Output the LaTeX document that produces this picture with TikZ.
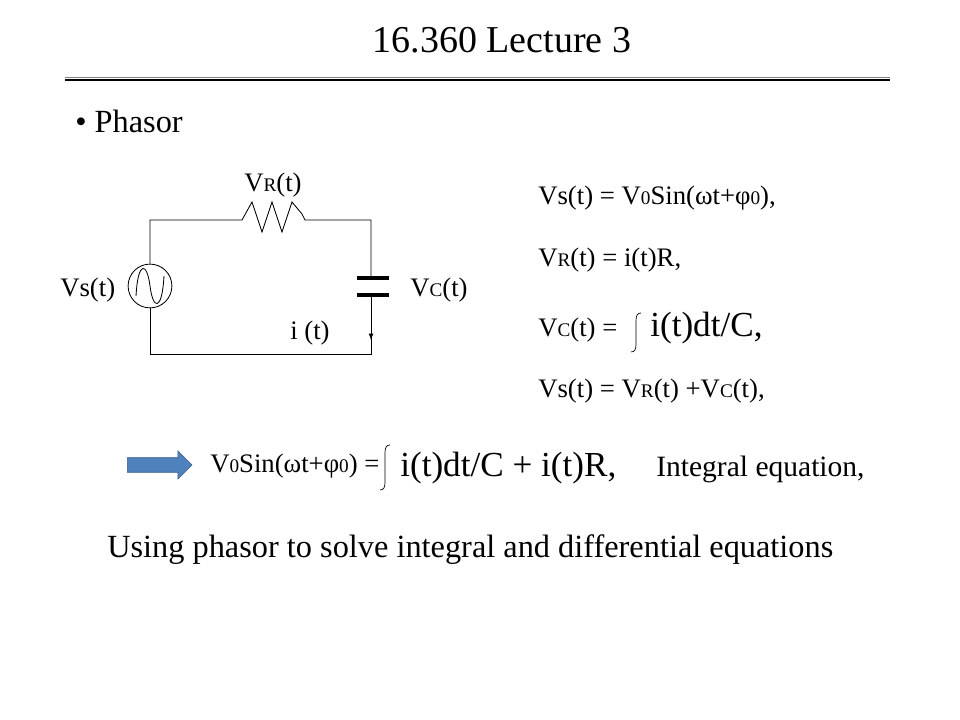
\documentclass[tikz,border=0pt]{standalone}
\usepackage{fontspec}
\setmainfont{Liberation Serif}
\usetikzlibrary{shapes.arrows}
\newcommand\lo[1]{\scalebox{0.72}{#1}}
\newcommand\intsign[3]{% x, top y, bottom y
  \draw[line width=0.5pt] (#1+5,#2) .. controls (#1+1,#2) and (#1,#2+3) .. (#1,#2+8)
    -- (#1,#3-8) .. controls (#1,#3-3) and (#1-1,#3) .. (#1-5,#3);}
\definecolor{arrowblue}{RGB}{79,129,189}
\tikzset{
  txt/.style={anchor=base west,inner sep=0pt,font=\fontsize{19}{22}\selectfont},
  big/.style={anchor=base west,inner sep=0pt,font=\fontsize{23}{27}\selectfont},
  wire/.style={line width=0.6pt}
}
\begin{document}
\begin{tikzpicture}[x=0.025cm,y=-0.025cm]
    \useasboundingbox (0,0) rectangle (960,720);

    % title and rule
    \node[big,anchor=base,font=\fontsize{27}{32}\selectfont] (title) at (502,53) {16.360 Lecture 3};
    \draw[line width=2pt] (65,80) -- (890,80);
    \draw[gray,line width=0.6pt] (65,77) -- (890,77);
    \node[big] (phasor) at (75,133) {\textbullet\ Phasor};

    % circuit
    \coordinate (TL) at (150,220);
    \coordinate (TR) at (371,220);
    \coordinate (BL) at (150,354);
    \coordinate (BR) at (371,354);
    \coordinate (R1) at (242,220);
    \coordinate (R2) at (305,220);
    \node[draw,circle,minimum size=44pt*0.708,inner sep=0pt,wire] (src) at (150,286) {};
    \draw[wire] (src.north) -- (TL) -- (R1)
        -- ++(10,-18) -- ++(10,30) -- ++(10,-30) -- ++(10,30) -- ++(10,-30) -- ++(10,12) -- (R2)
        -- (TR) -- (371,278);
    \draw[line width=2.2pt] (357,278) -- (389,278);
    \draw[line width=2.2pt] (357,295) -- (389,295);
    \draw[wire] (371,295) -- (BR) -- (BL) -- (src.south);
    \draw[-latex,wire] (371,320) -- (371,340);
    \draw[wire] (136,296) .. controls (138,260) and (147,262) .. (150,286)
        .. controls (153,310) and (162,312) .. (164,276);

    \node[txt] (vr) at (244,192) {V\lo{R}(t)};
    \node[txt] (vs) at (60,297) {Vs(t)};
    \node[txt] (vc) at (410,297) {V\lo{C}(t)};
    \node[txt] (it) at (290,340) {i (t)};

    % equations
    \node[txt] (eq1) at (538,205) {Vs(t) = V\lo{0}Sin(ωt+φ\lo{0}),};
    \node[txt] (eq2) at (538,267) {V\lo{R}(t) = i(t)R,};
    \node[txt] (eq3) at (538,337) {V\lo{C}(t) =};
    \intsign{636}{313}{352}
    \node[big,font=\fontsize{25}{30}\selectfont] (eq3b) at (650,337) {i(t)dt/C,};
    \node[txt] (eq4) at (538,398) {Vs(t) = V\lo{R}(t) +V\lo{C}(t),};

    \node[single arrow,draw=arrowblue!70!black,fill=arrowblue,minimum width=20pt,
          single arrow head extend=3pt,single arrow head indent=0pt,
          minimum height=46pt,inner sep=3pt] (arr) at (156,465) {};
    \node[txt] (eq5) at (210,473) {V\lo{0}Sin(ωt+φ\lo{0}) =};
    \intsign{385}{445}{490}
    \node[big,font=\fontsize{25}{30}\selectfont] (eq5b) at (400,477) {i(t)dt/C + i(t)R,};
    \node[big,font=\fontsize{21}{25}\selectfont] (inteq) at (656,477) {Integral equation,};

    \node[big] (using) at (107,557) {Using phasor to solve integral and differential equations};
\end{tikzpicture}
\end{document}
